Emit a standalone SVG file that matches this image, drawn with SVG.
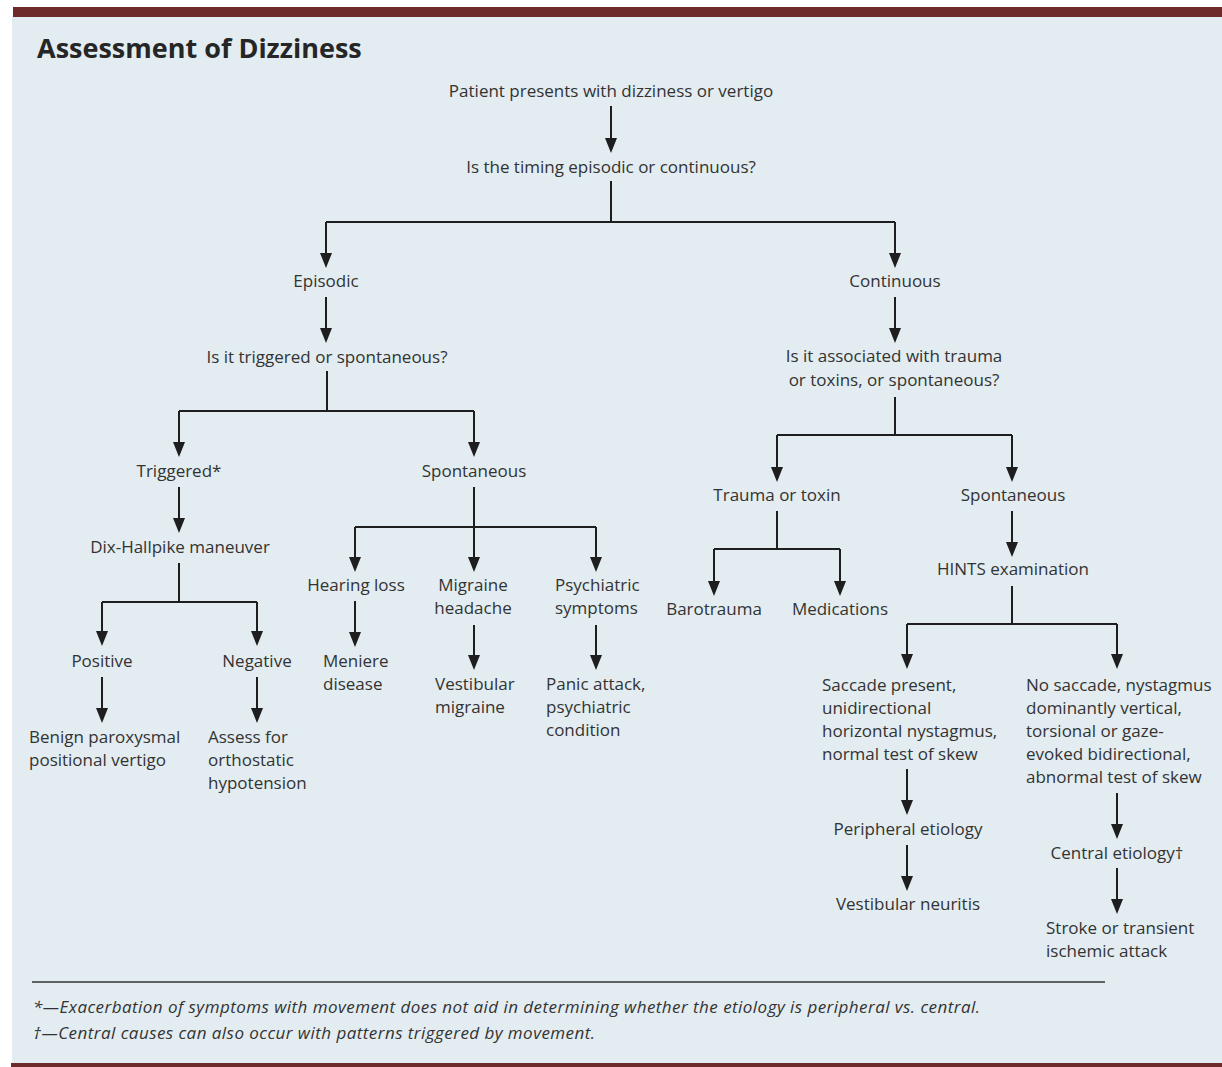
<svg xmlns="http://www.w3.org/2000/svg" width="1222" height="1067" viewBox="0 0 1222 1067">
  <style>
    .t { font-family: "Open Sans", "Noto Sans", "Liberation Sans", sans-serif; font-size: 17px; fill: #333333; }
    .c { text-anchor: middle; }
    .title { font-family: "Open Sans", "Noto Sans", "Liberation Sans", sans-serif; font-size: 27px; font-weight: bold; fill: #262626; }
    .note { font-family: "Open Sans", "Noto Sans", "Liberation Sans", sans-serif; font-size: 17px; letter-spacing: 0.45px; font-style: italic; fill: #333333; }
    .ln { fill: none; stroke: #1e1e1e; stroke-width: 2; }
    .ar { fill: none; stroke: #1e1e1e; stroke-width: 2; marker-end: url(#head); }
  </style>
  <defs>
    <marker id="head" markerUnits="userSpaceOnUse" markerWidth="16" markerHeight="12" refX="1" refY="6" orient="auto">
      <path d="M0,0 L15,6 L0,12 Z" fill="#1e1e1e"/>
    </marker>
  </defs>

  <!-- page panel and bands -->
  <rect x="0" y="0" width="1222" height="1067" fill="#ffffff"/>
  <rect x="12" y="16" width="1210" height="1048" fill="#e2ecf1"/>
  <rect x="13" y="7" width="1209" height="10" fill="#6e2a2a"/>
  <rect x="11" y="1063" width="1211" height="4" fill="#6e2a2a"/>

  <text class="title" x="37" y="58">Assessment of Dizziness</text>

  <!-- connectors -->
  <g id="connectors">
    <path class="ar" d="M611 106 V139"/>
    <path class="ln" d="M611 181 V222 M326 222 H895"/>
    <path class="ar" d="M326 222 V254"/>
    <path class="ar" d="M895 222 V254"/>

    <path class="ar" d="M326 297 V329"/>
    <path class="ln" d="M327 371 V411 M179 411 H474"/>
    <path class="ar" d="M179 411 V443"/>
    <path class="ar" d="M474 411 V443"/>

    <path class="ar" d="M179 487 V519"/>
    <path class="ln" d="M179 563 V602 M102 602 H257"/>
    <path class="ar" d="M102 602 V632"/>
    <path class="ar" d="M257 602 V632"/>
    <path class="ar" d="M102 677 V709"/>
    <path class="ar" d="M257 677 V709"/>

    <path class="ln" d="M474 487 V527 M355 527 H596"/>
    <path class="ar" d="M355 527 V558"/>
    <path class="ar" d="M474 527 V558"/>
    <path class="ar" d="M596 527 V558"/>
    <path class="ar" d="M355 601 V633"/>
    <path class="ar" d="M474 625 V656"/>
    <path class="ar" d="M596 625 V656"/>

    <path class="ar" d="M895 297 V329"/>
    <path class="ln" d="M895 397 V435 M777 435 H1012"/>
    <path class="ar" d="M777 435 V468"/>
    <path class="ar" d="M1012 435 V468"/>
    <path class="ln" d="M777 511 V549 M714 549 H840"/>
    <path class="ar" d="M714 549 V582"/>
    <path class="ar" d="M840 549 V582"/>
    <path class="ar" d="M1012 511 V543"/>
    <path class="ln" d="M1012 586 V624 M907 624 H1117"/>
    <path class="ar" d="M907 624 V655"/>
    <path class="ar" d="M1117 624 V655"/>
    <path class="ar" d="M907 769 V801"/>
    <path class="ar" d="M907 845 V877"/>
    <path class="ar" d="M1117 793 V825"/>
    <path class="ar" d="M1117 868 V900"/>
  </g>

  <!-- nodes -->
  <g id="n-start"><text class="t c" x="611" y="97">Patient presents with dizziness or vertigo</text></g>
  <g id="n-timing"><text class="t c" x="611" y="173">Is the timing episodic or continuous?</text></g>
  <g id="n-episodic"><text class="t c" x="326" y="287">Episodic</text></g>
  <g id="n-continuous"><text class="t c" x="895" y="287">Continuous</text></g>
  <g id="n-trigger-q"><text class="t c" x="327" y="363">Is it triggered or spontaneous?</text></g>
  <g id="n-trauma-q"><text class="t c" x="894" y="362">Is it associated with trauma<tspan x="894" dy="24">or toxins, or spontaneous?</tspan></text></g>
  <g id="n-triggered"><text class="t c" x="179" y="477">Triggered*</text></g>
  <g id="n-spont-ep"><text class="t c" x="474" y="477">Spontaneous</text></g>
  <g id="n-dix"><text class="t c" x="180" y="553">Dix-Hallpike maneuver</text></g>
  <g id="n-positive"><text class="t c" x="102" y="667">Positive</text></g>
  <g id="n-negative"><text class="t c" x="257" y="667">Negative</text></g>
  <g id="n-bppv"><text class="t" x="29" y="743">Benign paroxysmal<tspan x="29" dy="23">positional vertigo</tspan></text></g>
  <g id="n-ortho"><text class="t" x="208" y="743">Assess for<tspan x="208" dy="23">orthostatic</tspan><tspan x="208" dy="23">hypotension</tspan></text></g>
  <g id="n-hearing"><text class="t c" x="356" y="591">Hearing loss</text></g>
  <g id="n-migraine"><text class="t c" x="473" y="591">Migraine<tspan x="473" dy="23">headache</tspan></text></g>
  <g id="n-psych"><text class="t" x="555" y="591">Psychiatric<tspan x="555" dy="23">symptoms</tspan></text></g>
  <g id="n-meniere"><text class="t" x="323" y="667">Meniere<tspan x="323" dy="23">disease</tspan></text></g>
  <g id="n-vestmig"><text class="t" x="435" y="690">Vestibular<tspan x="435" dy="23">migraine</tspan></text></g>
  <g id="n-panic"><text class="t" x="546" y="690">Panic attack,<tspan x="546" dy="23">psychiatric</tspan><tspan x="546" dy="23">condition</tspan></text></g>
  <g id="n-trauma"><text class="t c" x="777" y="501">Trauma or toxin</text></g>
  <g id="n-spont-co"><text class="t c" x="1013" y="501">Spontaneous</text></g>
  <g id="n-baro"><text class="t c" x="714" y="615">Barotrauma</text></g>
  <g id="n-meds"><text class="t c" x="840" y="615">Medications</text></g>
  <g id="n-hints"><text class="t c" x="1013" y="575">HINTS examination</text></g>
  <g id="n-saccade"><text class="t" x="822" y="691">Saccade present,<tspan x="822" dy="23">unidirectional</tspan><tspan x="822" dy="23">horizontal nystagmus,</tspan><tspan x="822" dy="23">normal test of skew</tspan></text></g>
  <g id="n-nosaccade"><text class="t" x="1026" y="691">No saccade, nystagmus<tspan x="1026" dy="23">dominantly vertical,</tspan><tspan x="1026" dy="23">torsional or gaze-</tspan><tspan x="1026" dy="23">evoked bidirectional,</tspan><tspan x="1026" dy="23">abnormal test of skew</tspan></text></g>
  <g id="n-peripheral"><text class="t c" x="908" y="835">Peripheral etiology</text></g>
  <g id="n-neuritis"><text class="t c" x="908" y="910">Vestibular neuritis</text></g>
  <g id="n-central"><text class="t c" x="1117" y="859">Central etiology†</text></g>
  <g id="n-stroke"><text class="t" x="1046" y="934">Stroke or transient<tspan x="1046" dy="23">ischemic attack</tspan></text></g>

  <!-- footnotes -->
  <line x1="32" y1="982" x2="1105" y2="982" stroke="#333333" stroke-width="1.5"/>
  <text class="note" x="33" y="1013">*—Exacerbation of symptoms with movement does not aid in determining whether the etiology is peripheral vs. central.</text>
  <text class="note" x="33" y="1039">†—Central causes can also occur with patterns triggered by movement.</text>
</svg>
